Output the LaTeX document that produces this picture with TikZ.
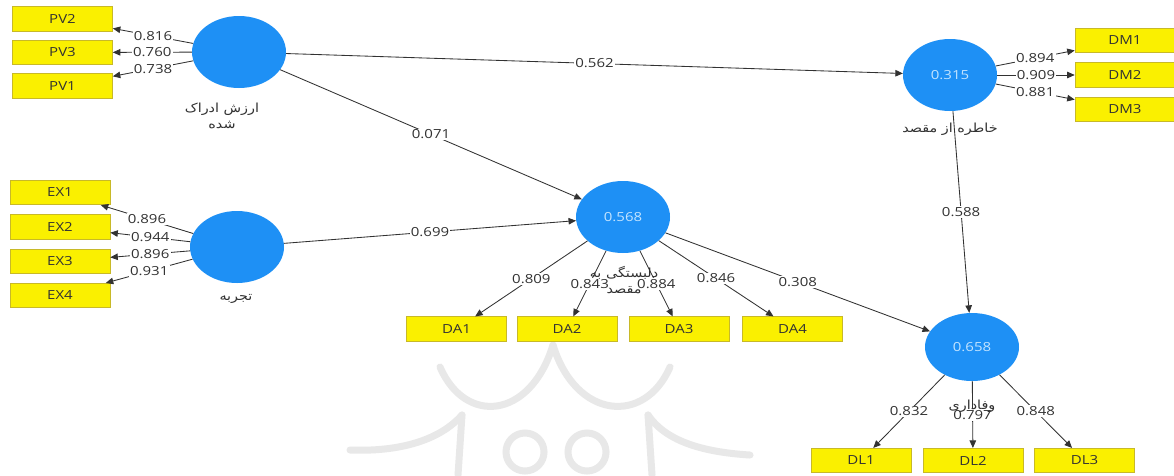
\documentclass[tikz,border=0pt]{standalone}
\usepackage{fontspec}
\setmainfont{Open Sans}[FakeStretch=1.2]
\newfontfamily\fa[Script=Arabic,FakeStretch=1.15]{DejaVu Sans}
\TeXXeTstate=1
\usetikzlibrary{shapes.geometric,arrows.meta}
\definecolor{lvblue}{RGB}{30,144,245}
\definecolor{lvtext}{RGB}{195,228,255}
\definecolor{indyellow}{RGB}{250,240,0}
\definecolor{indborder}{RGB}{200,185,40}
\definecolor{linegray}{RGB}{50,50,50}
\definecolor{textgray}{RGB}{50,50,50}
\definecolor{wmgray}{RGB}{232,232,232}
\tikzset{
  lv/.style={ellipse, fill=lvblue, minimum width=94pt, minimum height=72pt, inner sep=0pt, text=lvtext, font=\fontsize{12.5}{14}\selectfont},
  ind/.style={rectangle, fill=indyellow, draw=indborder, line width=0.6pt, minimum width=100pt, minimum height=24.5pt, inner sep=0pt, text=textgray, font=\fontsize{12.5}{14}\selectfont},
  pth/.style={draw=linegray, line width=0.85pt, -{Triangle[length=7.5pt,width=6.5pt]}},
  coef/.style={fill=white, inner sep=1.3pt, text=textgray, font=\fontsize{12.5}{14}\selectfont},
  lab/.style={text=textgray, align=center, font=\fa\fontsize{12.5}{16.5}\selectfont},
  wm/.style={draw=wmgray, line width=7pt, line cap=round}
}
\begin{document}
\begin{tikzpicture}[x=1pt,y=-1pt]
\useasboundingbox (0,0) rectangle (1174,475);
\fill[white] (0,0) rectangle (1174,475);
% faint watermark
\draw[wm] (440,367) .. controls (465,425) and (530,420) .. (553,345);
\draw[wm] (553,345) .. controls (576,420) and (645,425) .. (670,367);
\draw[wm] (350,450) .. controls (400,452) and (440,440) .. (462,415);
\draw[wm] (750,455) .. controls (700,452) and (665,440) .. (648,415);
\draw[wm] (462,415) -- (458,475);
\draw[wm] (648,415) -- (652,475);
\draw[wm] (525,452) circle[radius=19];
\draw[wm] (587,452) circle[radius=19];
% latent variables
\node[lv] (PV) at (239,52) {};
\node[lv] (EX) at (237,247) {};
\node[lv] (DA) at (623,217) {0.568};
\node[lv] (DM) at (950,75) {0.315};
\node[lv, minimum height=68pt] (DL) at (972,347) {0.658};
% indicators
\node[ind] (PV2) at (62.5,19) {PV2};
\node[ind] (PV3) at (62.5,52.5) {PV3};
\node[ind] (PV1) at (62.5,86) {PV1};
\node[ind] (EX1) at (60,192.5) {EX1};
\node[ind] (EX2) at (60,227) {EX2};
\node[ind] (EX3) at (60,261.5) {EX3};
\node[ind] (EX4) at (60,295.5) {EX4};
\node[ind] (DA1) at (456.5,329) {DA1};
\node[ind] (DA2) at (567,329) {DA2};
\node[ind] (DA3) at (679,329) {DA3};
\node[ind] (DA4) at (792.5,329) {DA4};
\node[ind] (DM1) at (1125,40.5) {DM1};
\node[ind] (DM2) at (1125,75) {DM2};
\node[ind] (DM3) at (1125,109.5) {DM3};
\node[ind] (DL1) at (861,460.5) {DL1};
\node[ind] (DL2) at (973,460.5) {DL2};
\node[ind] (DL3) at (1084.5,460.5) {DL3};
% structural paths
\draw[pth] (PV) -- node[coef, midway] {0.562} (DM);
\draw[pth] (PV) -- node[coef, midway] {0.071} (DA);
\draw[pth] (EX) -- node[coef, midway] {0.699} (DA);
\draw[pth] (DM) -- node[coef, midway] {0.588} (DL);
\draw[pth] (DA) -- node[coef, midway] {0.308} (DL);
% outer loadings
\draw[pth] (PV) -- node[coef, midway] {0.816} (PV2);
\draw[pth] (PV) -- node[coef, midway] {0.760} (PV3);
\draw[pth] (PV) -- node[coef, midway] {0.738} (PV1);
\draw[pth] (EX) -- node[coef, midway] {0.896} (EX1);
\draw[pth] (EX) -- node[coef, midway] {0.944} (EX2);
\draw[pth] (EX) -- node[coef, midway] {0.896} (EX3);
\draw[pth] (EX) -- node[coef, midway] {0.931} (EX4);
\draw[pth] (DA) -- node[coef, midway] {0.809} (DA1);
\draw[pth] (DA) -- node[coef, midway] {0.843} (DA2);
\draw[pth] (DA) -- node[coef, midway] {0.884} (DA3);
\draw[pth] (DA) -- node[coef, midway] {0.846} (DA4);
\draw[pth] (DM) -- node[coef, midway] {0.894} (DM1);
\draw[pth] (DM) -- node[coef, midway] {0.909} (DM2);
\draw[pth] (DM) -- node[coef, midway] {0.881} (DM3);
\draw[pth] (DL) -- node[coef, midway] {0.832} (DL1);
\draw[pth] (DL) -- node[coef, midway] {0.797} (DL2);
\draw[pth] (DL) -- node[coef, midway] {0.848} (DL3);
% construct names
\node[lab] (PVlab) at (222,116) {\beginR ارزش ادراک\endR\\\beginR شده\endR};
\node[lab] (EXlab) at (236,299) {\beginR تجربه\endR};
\node[lab] (DAlab) at (624,280) {\beginR دلبستگی به\endR\\\beginR مقصد\endR};
\node[lab] (DMlab) at (950,129) {\beginR خاطره از مقصد\endR};
\node[lab] (DLlab) at (972,406) {\beginR وفاداری\endR};
\end{tikzpicture}
\end{document}
